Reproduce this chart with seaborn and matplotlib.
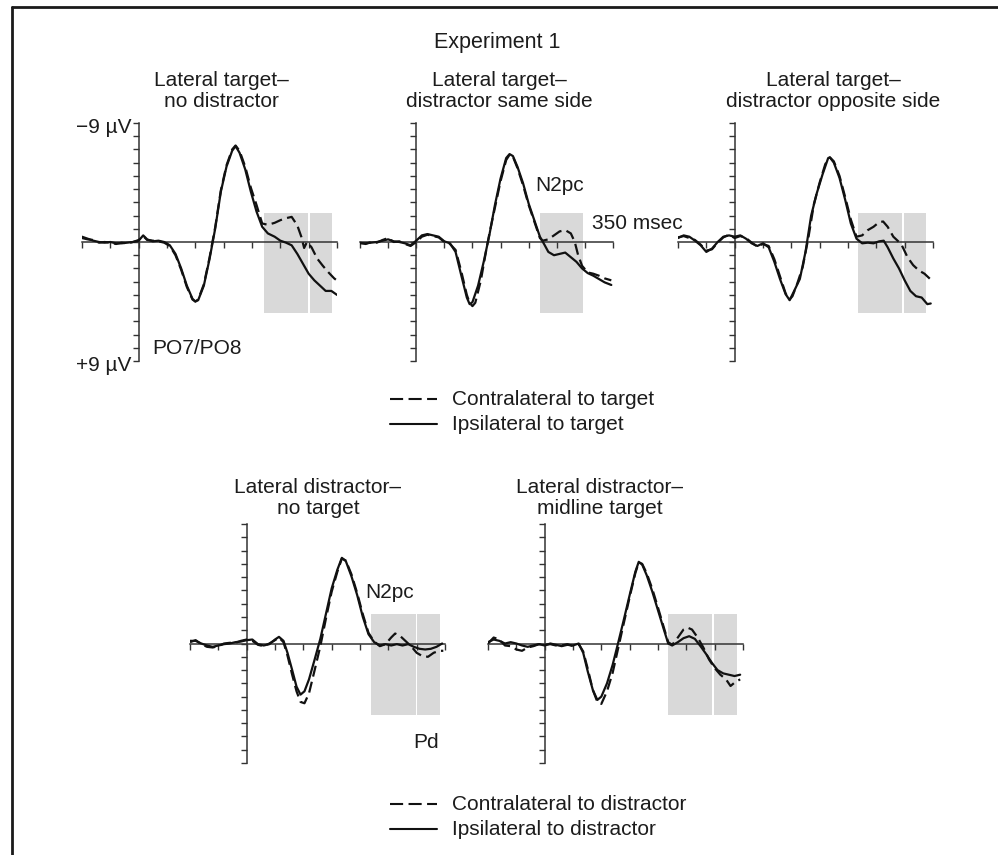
import matplotlib
matplotlib.use('Agg')
import matplotlib.pyplot as plt
import seaborn as sns
import pandas as pd
from matplotlib.lines import Line2D
from matplotlib.patches import Rectangle

# ---------------- data (time in ms, amplitude in microvolts; negative up) ----------------
p1_t_ipsi = [-100, -90, -80, -70, -60, -50, -40, -30, -20, -10, 0, 8, 15, 25, 35, 45, 55, 65, 75, 85, 95, 100,
             105, 115, 125, 135, 145, 155, 165, 171, 178, 188, 198, 208, 218, 228, 240, 250, 260, 270, 280,
             290, 300, 310, 320, 330, 340, 350]
p1_ipsi = [-0.4, -0.25, -0.1, 0.0, 0.05, 0.0, 0.1, 0.1, 0.05, 0.0, -0.1, -0.5, -0.2, -0.05, -0.1, 0.0, 0.25, 0.9,
           2.0, 3.3, 4.3, 4.5, 4.4, 3.3, 1.3, -1.0, -3.8, -5.7, -6.9, -7.25, -6.75, -5.5, -3.8, -2.3, -1.15,
           -0.65, -0.4, -0.1, 0.05, 0.25, 0.9, 1.65, 2.4, 2.9, 3.3, 3.7, 3.7, 4.0]
p1_t_contra = [-100, -90, -80, -70, -60, -50, -40, -30, -20, -10, 0, 8, 15, 25, 35, 45, 55, 65, 75, 85, 95, 100,
               105, 115, 125, 135, 145, 155, 165, 171, 178, 188, 198, 208, 218, 228, 240, 250, 260, 270, 280,
               287, 292, 297, 305, 315, 325, 335, 345, 348]
p1_contra = [-0.3, -0.2, -0.15, 0.05, 0.0, 0.05, 0.15, 0.05, 0.1, 0.0, -0.15, -0.45, -0.15, -0.1, -0.05, 0.05,
             0.3, 1.0, 2.1, 3.4, 4.35, 4.5, 4.35, 3.2, 1.2, -1.1, -3.9, -5.8, -7.0, -7.3, -6.9, -5.7, -4.1,
             -2.8, -1.4, -1.3, -1.45, -1.65, -1.8, -1.9, -1.25, -0.4, 0.45, 0.0, 0.4, 1.25, 1.8, 2.3, 2.75, 2.85]

p2_t_ipsi = [-100, -90, -80, -70, -60, -50, -40, -30, -20, -10, 0, 10, 20, 30, 40, 50, 60, 70, 80, 90, 95, 100,
             110, 120, 130, 140, 150, 160, 166, 172, 180, 190, 200, 210, 220, 228, 235, 245, 255, 265, 275,
             285, 295, 305, 315, 325, 335, 347]
p2_ipsi = [0.1, 0.1, 0.05, 0.0, -0.1, -0.2, -0.05, 0.0, 0.1, 0.25, -0.1, -0.5, -0.6, -0.5, -0.4, -0.05, 0.1,
           0.75, 2.5, 4.2, 4.7, 4.55, 3.3, 1.5, -0.5, -2.8, -4.8, -6.35, -6.65, -6.5, -5.7, -4.45, -2.9, -1.65,
           -0.4, 0.2, 0.75, 1.0, 0.9, 0.8, 1.15, 1.5, 2.0, 2.35, 2.55, 2.8, 3.05, 3.25]
p2_t_contra = [-100, -90, -80, -70, -60, -50, -40, -30, -20, -10, 0, 10, 20, 30, 40, 50, 60, 70, 80, 90, 95, 100,
               105, 115, 125, 130, 140, 150, 160, 166, 172, 180, 190, 200, 210, 220, 225, 235, 245, 255, 265,
               275, 282, 288, 295, 305, 315, 325, 335, 347]
p2_contra = [0.05, 0.15, 0.0, 0.05, -0.15, -0.3, 0.0, -0.05, 0.15, 0.3, 0.0, -0.4, -0.55, -0.45, -0.35, 0.0,
             0.15, 0.6, 2.2, 4.0, 4.6, 4.85, 4.6, 2.9, 0.5, -0.6, -2.6, -4.6, -6.2, -6.6, -6.45, -5.6, -4.3,
             -2.8, -1.55, -0.3, -0.1, -0.2, -0.5, -0.8, -0.9, -0.65, 0.0, 1.0, 1.8, 2.3, 2.4, 2.55, 2.75, 2.9]

p3_t_ipsi = [-100, -90, -80, -70, -60, -50, -40, -30, -20, -10, 0, 10, 20, 30, 40, 50, 60, 70, 80, 90, 97, 105,
             115, 125, 135, 145, 155, 165, 168, 175, 185, 195, 205, 215, 225, 235, 245, 255, 263, 270, 280,
             290, 300, 310, 320, 330, 340, 346]
p3_ipsi = [-0.3, -0.5, -0.4, -0.1, 0.25, 0.75, 0.5, 0.0, -0.4, -0.5, -0.4, -0.5, -0.25, 0.1, 0.3, 0.1, 0.4, 1.5,
           2.8, 3.95, 4.4, 3.7, 2.8, 0.75, -2.0, -3.7, -5.1, -6.35, -6.4, -6.0, -4.85, -3.2, -1.4, -0.25, 0.1,
           0.05, 0.1, -0.05, -0.1, 0.4, 1.25, 2.0, 2.9, 3.7, 4.1, 4.2, 4.7, 4.65]
p3_t_contra = [-100, -90, -80, -70, -60, -50, -40, -30, -20, -10, 0, 10, 20, 30, 40, 50, 60, 70, 80, 90, 97, 102,
               110, 120, 130, 140, 150, 160, 168, 175, 185, 195, 205, 215, 225, 235, 245, 255, 262, 270, 280,
               290, 295, 305, 315, 325, 335, 345]
p3_contra = [-0.35, -0.45, -0.3, -0.15, 0.2, 0.65, 0.55, 0.05, -0.35, -0.55, -0.3, -0.45, -0.3, 0.05, 0.35,
             0.15, 0.3, 1.3, 2.6, 3.9, 4.35, 4.1, 3.2, 1.9, -0.3, -2.9, -4.5, -5.9, -6.4, -6.1, -5.0, -3.4, -1.7,
             -0.4, -0.5, -0.9, -1.15, -1.5, -1.55, -1.15, -0.4, 0.0, 0.25, 1.15, 1.75, 2.15, 2.4, 2.8]

p4_t_ipsi = [-100, -90, -80, -70, -60, -50, -40, -30, -20, -10, 0, 10, 20, 30, 40, 50, 57, 65, 72, 80, 88, 95,
             102, 110, 120, 130, 140, 150, 160, 168, 175, 185, 195, 205, 215, 225, 235, 245, 255, 265, 275, 285,
             295, 305, 315, 325, 335, 345]
p4_ipsi = [-0.2, -0.2, 0.0, 0.15, 0.25, 0.15, 0.05, 0.0, -0.1, -0.15, -0.25, -0.3, 0.05, 0.15, 0.05, -0.3, -0.5,
           -0.2, 0.7, 1.95, 3.25, 3.85, 3.6, 2.7, 1.2, -0.35, -2.25, -4.15, -5.55, -6.45, -6.2, -5.05, -3.65,
           -2.0, -0.7, -0.1, 0.15, 0.05, 0.15, 0.05, 0.15, 0.05, 0.25, 0.4, 0.45, 0.4, 0.25, 0.0]
p4_t_contra = [-100, -90, -80, -70, -60, -50, -40, -30, -20, -10, 0, 10, 20, 30, 40, 50, 57, 65, 72, 80, 88, 95,
               102, 110, 120, 130, 140, 150, 160, 168, 175, 185, 195, 205, 215, 225, 235, 245, 255, 262, 270,
               280, 290, 300, 310, 320, 330, 340, 347]
p4_contra = [-0.1, -0.25, 0.05, 0.25, 0.3, 0.2, 0.0, -0.05, -0.05, -0.2, -0.3, -0.2, 0.1, 0.2, 0.0, -0.25, -0.45,
             -0.1, 0.9, 2.3, 3.6, 4.4, 4.5, 3.75, 2.0, 0.2, -1.9, -3.9, -5.4, -6.4, -6.25, -5.2, -3.8, -2.2,
             -0.8, -0.15, 0.2, 0.05, -0.45, -0.75, -0.6, -0.2, 0.2, 0.7, 0.95, 1.0, 0.7, 0.55, 0.55]

p5_t_ipsi = [-100, -90, -80, -70, -60, -50, -40, -30, -20, -10, 0, 10, 20, 30, 40, 50, 60, 68, 76, 85, 93, 100,
             110, 120, 130, 140, 150, 160, 166, 172, 180, 190, 200, 210, 218, 225, 235, 245, 255, 265, 275, 285,
             295, 305, 315, 325, 335, 345]
p5_ipsi = [-0.1, -0.3, -0.2, 0.0, -0.1, 0.0, 0.15, 0.25, 0.15, 0.05, 0.15, 0.0, 0.1, 0.2, 0.1, 0.15, 0.0, 0.7,
           2.1, 3.5, 4.25, 4.0, 3.0, 1.6, -0.1, -1.85, -3.65, -5.4, -6.15, -5.95, -5.15, -3.9, -2.5, -1.1, 0.0,
           0.15, -0.1, -0.4, -0.55, -0.35, 0.2, 0.8, 1.45, 2.0, 2.25, 2.35, 2.45, 2.35]
p5_t_contra = [-100, -90, -80, -70, -60, -50, -40, -30, -20, -10, 0, 10, 20, 30, 40, 50, 60, 68, 76, 85, 93, 100,
               110, 120, 130, 140, 150, 160, 166, 172, 180, 190, 200, 210, 218, 225, 235, 245, 252, 260, 270,
               280, 290, 300, 310, 320, 328, 335, 345]
p5_contra = [0.0, -0.45, -0.3, 0.15, 0.2, 0.45, 0.55, 0.3, 0.2, 0.05, 0.1, 0.05, 0.15, 0.15, 0.05, 0.2, 0.05,
             0.6, 1.9, 3.5, 4.4, 4.55, 3.6, 2.2, 0.3, -1.6, -3.5, -5.3, -6.1, -6.0, -5.3, -4.1, -2.7, -1.25,
             -0.1, 0.1, -0.45, -1.05, -1.2, -1.05, -0.45, 0.3, 1.2, 1.85, 2.35, 2.7, 3.2, 2.95, 2.7]

# analysis windows (ms) shown as grey boxes, and their amplitude extent (µV)
p1_windows = [(221, 298), (302, 342)]
p2_windows = [(220, 296)]
p3_windows = [(218, 296), (299, 338)]
p4_windows = [(219, 298), (301, 341)]
p5_windows = [(218, 295), (299, 339)]
win_lo, win_hi = -2.2, 5.4

x_ticks = list(range(-100, 351, 50))
y_ticks = list(range(-9, 10))

titles_top = ["Lateral target\u2013\nno distractor", "Lateral target\u2013\ndistractor same side",
              "Lateral target\u2013\ndistractor opposite side"]
titles_bottom = ["Lateral distractor\u2013\nno target", "Lateral distractor\u2013\nmidline target"]
legend_top = ["Contralateral to target", "Ipsilateral to target"]
legend_bottom = ["Contralateral to distractor", "Ipsilateral to distractor"]

# ---------------- figure ----------------
sns.set_theme(style='white')
plt.rcParams['font.family'] = ['Liberation Sans', 'DejaVu Sans']

W, H = 998, 855
fig = plt.figure(figsize=(W / 100, H / 100), dpi=100)
fig.patch.set_facecolor('white')
INK = '#1c1c1c'
FS = 15


def fx(px):
    return px / W


def fy(py):
    return 1 - py / H


def panel(box, t_c, v_c, t_i, v_i, windows):
    x0, x1, y0, y1 = box
    ax = fig.add_axes([fx(x0), fy(y1), (x1 - x0) / W, (y1 - y0) / H])
    ax.set_facecolor('none')
    for a, b in windows:
        ax.add_patch(Rectangle((a, win_lo), b - a, win_hi - win_lo, facecolor='#d9d9d9',
                               edgecolor='none', zorder=0))
    df = pd.concat([pd.DataFrame({'t': t_c, 'v': v_c, 'side': 'contra'}),
                    pd.DataFrame({'t': t_i, 'v': v_i, 'side': 'ipsi'})], ignore_index=True)
    sns.lineplot(data=df, x='t', y='v', style='side', dashes={'contra': (5, 2.4), 'ipsi': ''},
                 color='#111111', linewidth=1.6, estimator=None, sort=False, legend=False, ax=ax, zorder=3)
    ax.set_xlim(-100, 350)
    ax.set_ylim(9, -9)
    ax.grid(False)
    for s in ['top', 'right']:
        ax.spines[s].set_visible(False)
    ax.spines['left'].set_position(('data', 0))
    ax.spines['bottom'].set_position(('data', 0))
    for s in ['left', 'bottom']:
        ax.spines[s].set_color('#333333')
        ax.spines[s].set_linewidth(1.1)
    ax.set_xticks(x_ticks)
    ax.set_yticks(y_ticks)
    ax.set_xticklabels([])
    ax.set_yticklabels([])
    ax.tick_params(axis='both', direction='out', length=4, width=1, color='#333333',
                   bottom=True, left=True)
    ax.set_xlabel('')
    ax.set_ylabel('')
    return ax


panel((82, 337, 123, 361), p1_t_contra, p1_contra, p1_t_ipsi, p1_ipsi, p1_windows)
panel((360, 613, 123, 361), p2_t_contra, p2_contra, p2_t_ipsi, p2_ipsi, p2_windows)
panel((678, 933, 123, 361), p3_t_contra, p3_contra, p3_t_ipsi, p3_ipsi, p3_windows)
panel((190, 445, 524, 763), p4_t_contra, p4_contra, p4_t_ipsi, p4_ipsi, p4_windows)
panel((488, 743, 524, 763), p5_t_contra, p5_contra, p5_t_ipsi, p5_ipsi, p5_windows)


def T(x, y, s, ha='center', va='baseline', size=FS, ls=1.2):
    fig.text(fx(x), fy(y), s, ha=ha, va=va, fontsize=size, color=INK, linespacing=ls)


# headings
T(497, 48, "Experiment 1", size=15.5)
for cx, s in zip([221, 499, 833], titles_top):
    T(cx, 107, s, va='baseline', ls=1.12)
for cx, s in zip([318, 600], titles_bottom):
    T(cx, 514, s, va='baseline', ls=1.12)

# scale labels and annotations
T(131, 133, "\u22129 \u00b5V", ha='right')
T(131, 371, "+9 \u00b5V", ha='right')
T(152, 354, "PO7/PO8", ha='left')
T(535, 191, "N2pc", ha='left')
T(592, 229, "350 msec", ha='left')
T(365, 598, "N2pc", ha='left')
T(413, 748, "Pd", ha='left')


# legends
def legend(y_first, labels):
    for k, lab in enumerate(labels):
        yb = y_first + 25 * k
        ym = yb - 6
        if k == 0:
            ln = Line2D([fx(390), fx(437)], [fy(ym), fy(ym)], color='#111111', lw=1.5,
                        dashes=(6.3, 2.6))
        else:
            ln = Line2D([fx(390), fx(437)], [fy(ym), fy(ym)], color='#111111', lw=1.5)
        fig.add_artist(ln)
        T(452, yb, lab, ha='left')


legend(405, legend_top)
legend(810, legend_bottom)

# partial frame (top and left edges)
fig.add_artist(Line2D([fx(12), fx(12)], [fy(7), 0], color='#1a1a1a', lw=2.0))
fig.add_artist(Line2D([fx(12), 1], [fy(7), fy(7)], color='#1a1a1a', lw=2.0))

fig.savefig('out.png', dpi=100, facecolor='white')
